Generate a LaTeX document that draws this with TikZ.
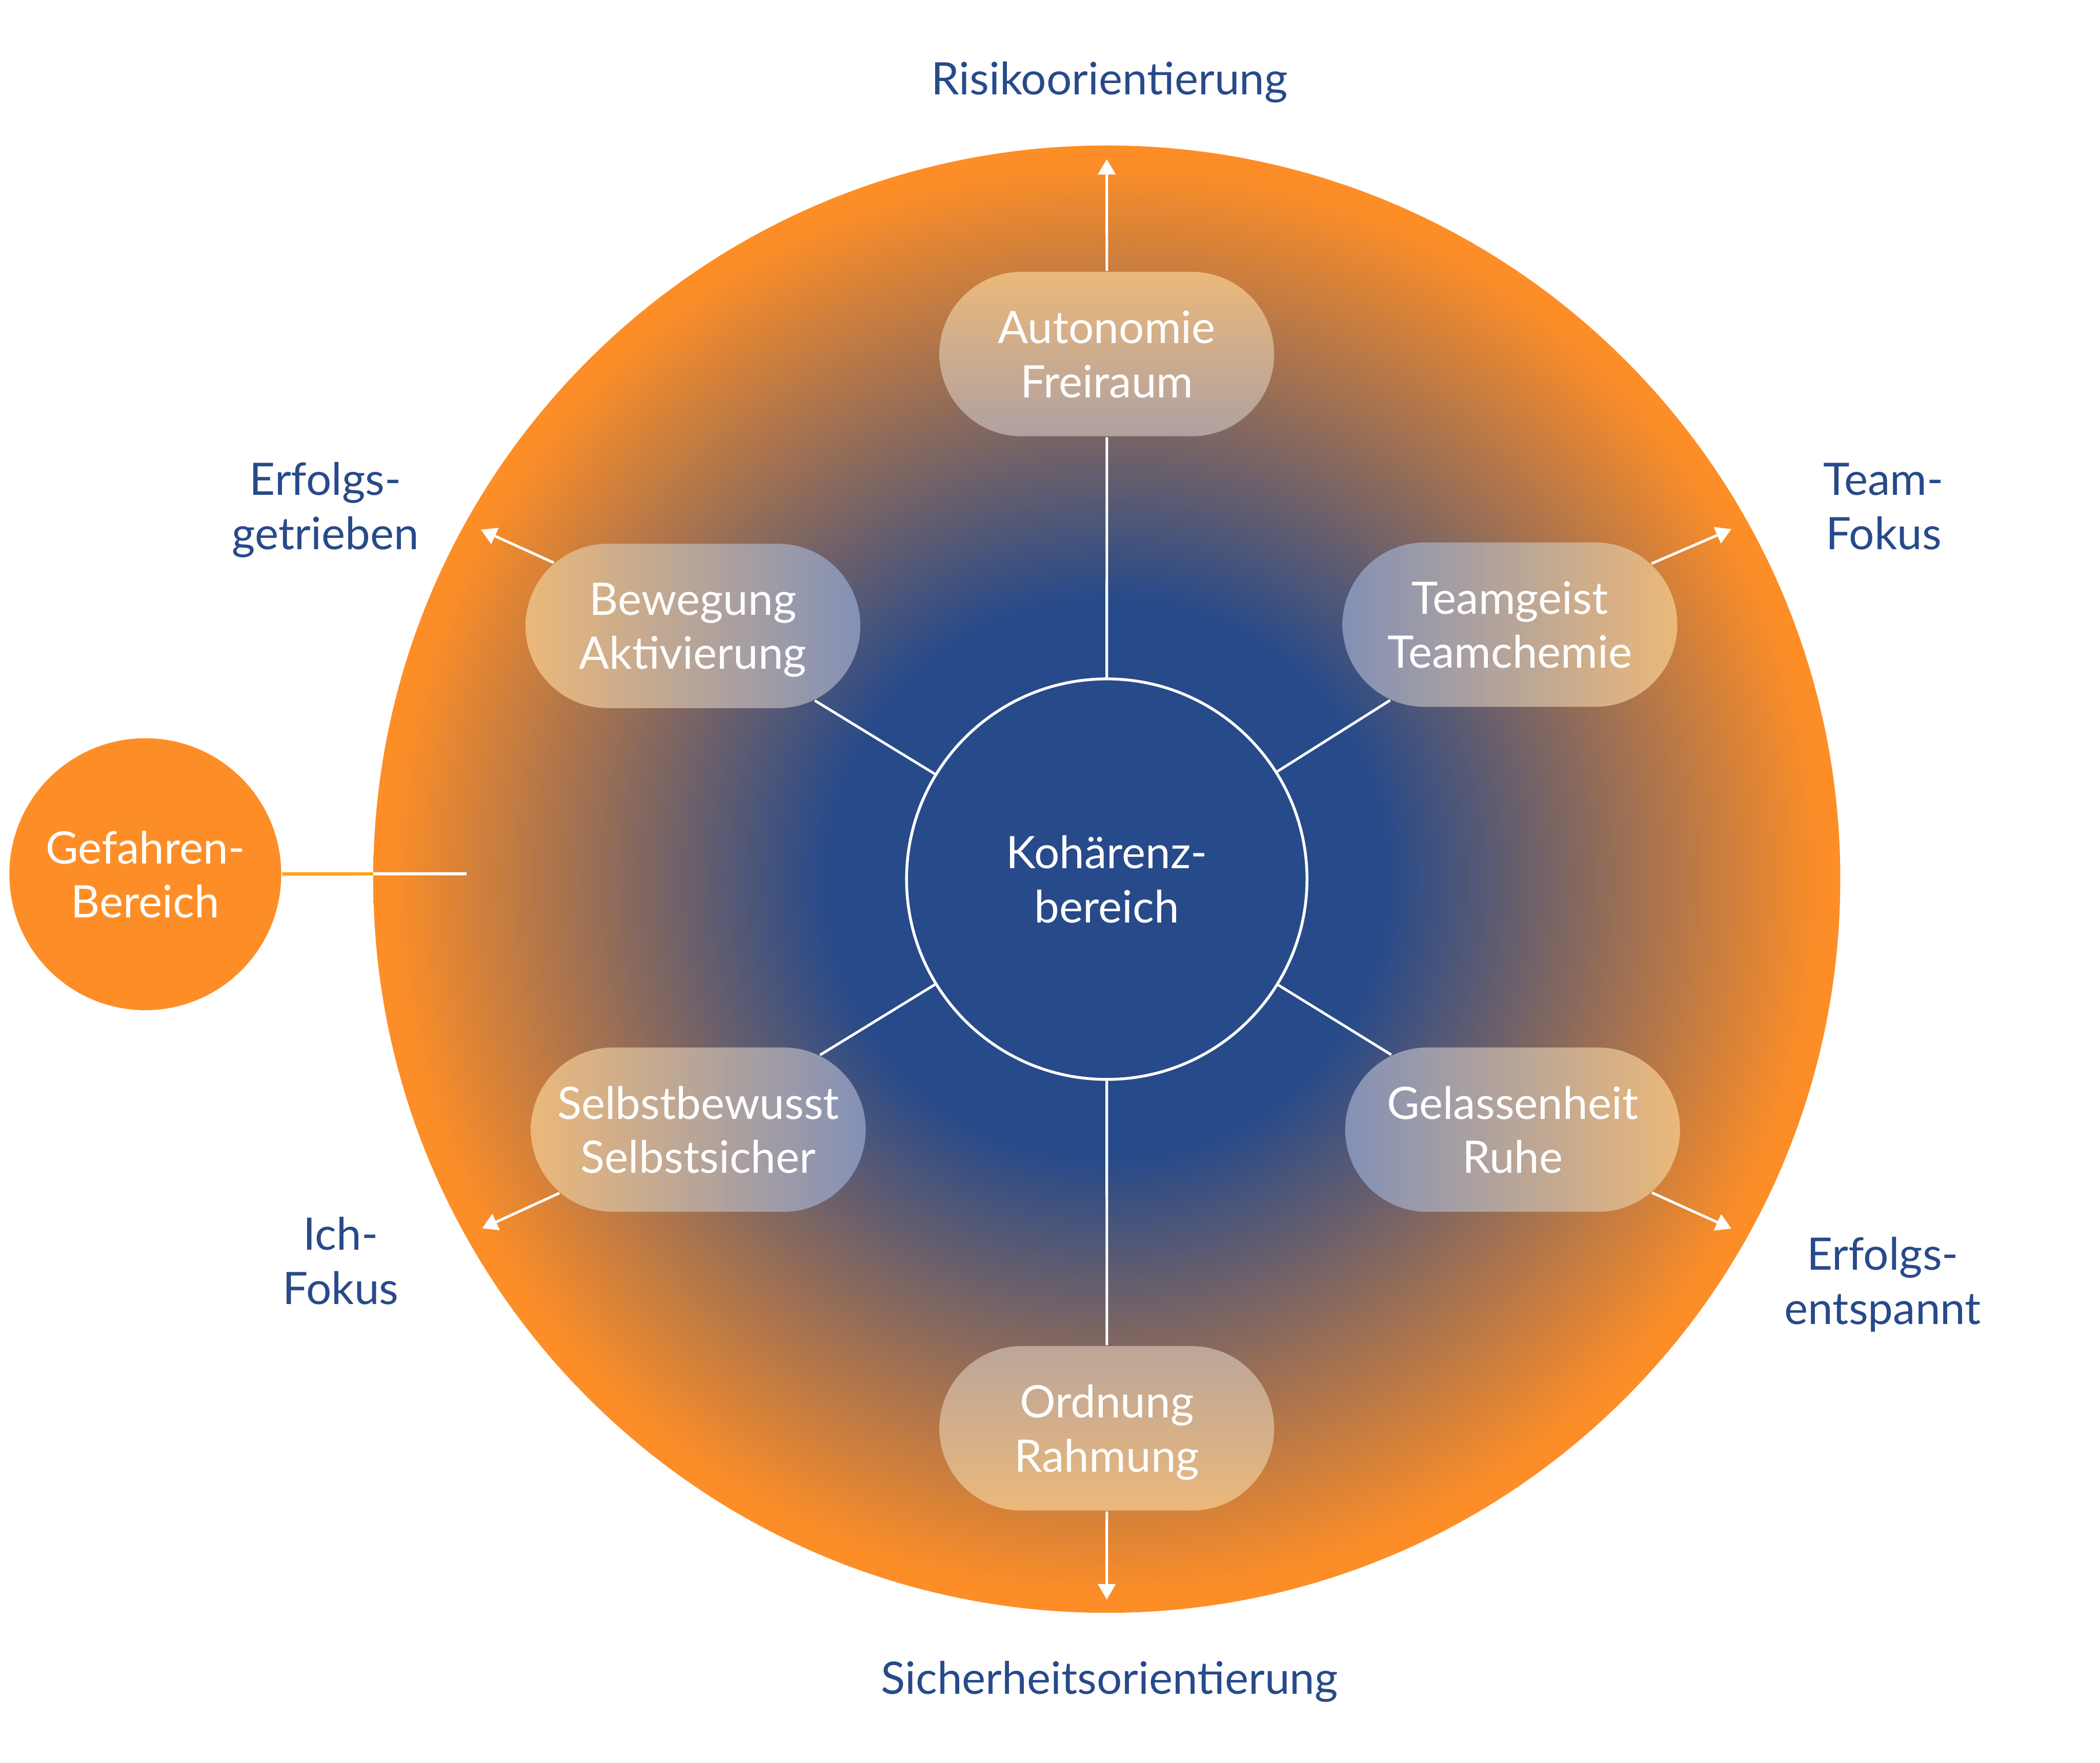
\documentclass[tikz,border=0pt]{standalone}
\usepackage{fontspec}
\setmainfont{Lato}
\usepackage{tikz}
\usetikzlibrary{arrows.meta, positioning, shapes.misc}
\definecolor{kblue}{RGB}{39, 74, 138}
\definecolor{korange}{RGB}{253, 142, 39}
\definecolor{kline}{RGB}{255, 162, 24}
\definecolor{kpeach}{RGB}{235, 184, 122}
\definecolor{kmist}{RGB}{131, 145, 182}
\definecolor{kdust}{RGB}{176, 161, 161}
\definecolor{ksand}{RGB}{188, 166, 154}

\pgfdeclareradialshading{kfield}{\pgfpoint{0bp}{0bp}}{%
  color(0bp)=(kblue); color(9.5bp)=(kblue); color(24.5bp)=(korange); color(50bp)=(korange)}

\begin{document}
\begin{tikzpicture}[x=0.1mm, y=0.1mm, >={Triangle[length=1.15mm, width=1.3mm]},
  txt/.style={font=\fontsize{9.5}{11.5}\selectfont, align=center, text depth=0pt},
  pill/.style={txt, text=white, rounded rectangle, minimum width=25mm,
    minimum height=12.27mm, inner sep=0pt},
  lbl/.style={txt, text=kblue},
  spoke/.style={white, line width=0.55pt}]

  \useasboundingbox (-826.4,-659.5) rectangle (741.6,656.3);

  % --- field ---
  \shade[shading=kfield] (0,0) circle (547.7);

  % --- core and danger zone ---
  \node[circle, draw=white, line width=0.6pt, fill=kblue, minimum size=29.9mm,
    txt, text=white] (core) at (0,0) {Kohärenz-\\bereich};
  \node[circle, fill=korange, minimum size=20.3mm, txt, text=white]
    (gef) at (-717.9,3.7) {Gefahren-\\Bereich};

  % --- pills ---
  \node[pill, top color=kpeach, bottom color=kdust] (auto) at (0,392) {Autonomie\\Freiraum};
  \node[pill, top color=ksand, bottom color=kpeach] (ord) at (0,-410) {Ordnung\\Rahmung};
  \node[pill, left color=kpeach, right color=kmist] (bew) at (-309,189) {Bewegung\\Aktivierung};
  \node[pill, left color=kmist, right color=kpeach] (team) at (301,190) {Teamgeist\\Teamchemie};
  \node[pill, left color=kpeach, right color=kmist] (selbst) at (-305,-187) {Selbstbewusst\\Selbstsicher};
  \node[pill, left color=kmist, right color=kpeach] (gel) at (303,-187) {Gelassenheit\\Ruhe};

  % --- arrow tips ---
  \coordinate (tAuto) at (0,537.5);
  \coordinate (tOrd) at (0,-537.7);
  \coordinate (tBew) at (-467.3,260.9);
  \coordinate (tTeam) at (466.4,261.3);
  \coordinate (tSelbst) at (-466.4,-260.7);
  \coordinate (tGel) at (466.4,-260.9);
  \coordinate (rim) at (-547.7,3.9);
  \coordinate (rimin) at (-478.1,3.9);

  % --- spokes ---
  \draw[spoke] (core) -- (auto);
  \draw[spoke] (core) -- (ord);
  \draw[spoke] (core) -- (bew);
  \draw[spoke] (core) -- (team);
  \draw[spoke] (core) -- (selbst);
  \draw[spoke] (core) -- (gel);
  \draw[spoke, ->] (auto) -- (tAuto);
  \draw[spoke, ->] (ord) -- (tOrd);
  \draw[spoke, ->] (bew) -- (tBew);
  \draw[spoke, ->] (team) -- (tTeam);
  \draw[spoke, ->] (selbst) -- (tSelbst);
  \draw[spoke, ->] (gel) -- (tGel);

  % --- danger link ---
  \draw[kline, line width=0.7pt] (gef) -- (rim);
  \draw[white, line width=0.7pt] (rim) -- (rimin);

  % --- outer labels ---
  \node[lbl] (risk) at (2,598) {Risikoorientierung};
  \node[lbl] (safe) at (2,-596) {Sicherheitsorientierung};
  \node[lbl] (erfg) at (-583.4,278.6) {Erfolgs-\\getrieben};
  \node[lbl] (tfok) at (580,278.3) {Team-\\Fokus};
  \node[lbl] (ifok) at (-572,-284.7) {Ich-\\Fokus};
  \node[lbl] (erfe) at (579.4,-299.7) {Erfolgs-\\entspannt};

\end{tikzpicture}
\end{document}
